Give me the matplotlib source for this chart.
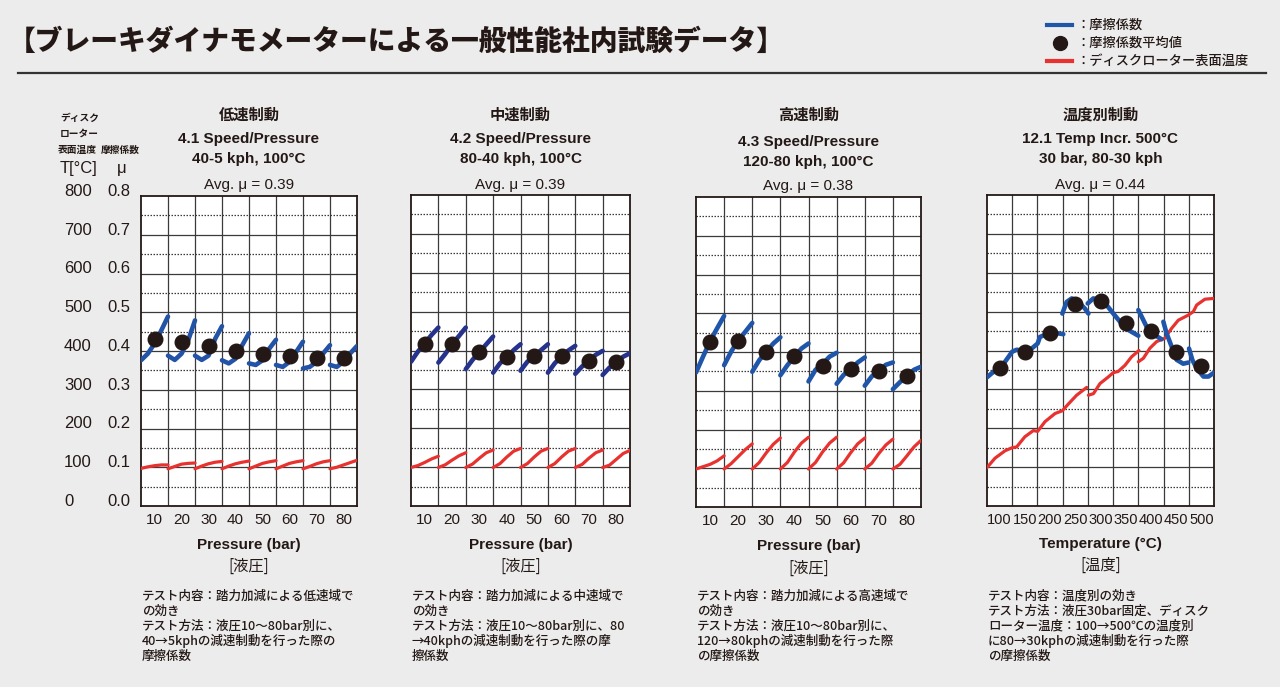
import matplotlib
matplotlib.use("Agg")
import matplotlib.pyplot as plt
from matplotlib.lines import Line2D
from matplotlib.transforms import blended_transform_factory
import numpy as np

W, H = 1280, 687

plt.rcParams["font.family"] = ["Liberation Sans", "Noto Sans CJK JP", "DejaVu Sans"]

BG = "#ececec"
INK = "#231815"
RED = "#e8322f"
JP = ["Noto Sans CJK JP", "DejaVu Sans"]

# --- data -------------------------------------------------------------
pressures = [10, 20, 30, 40, 50, 60, 70, 80]

# friction coefficient, 5 samples across each pressure step
low_mu = [[0.376, 0.393, 0.419, 0.453, 0.489],
          [0.388, 0.377, 0.393, 0.428, 0.479],
          [0.388, 0.377, 0.388, 0.432, 0.464],
          [0.376, 0.368, 0.380, 0.415, 0.446],
          [0.368, 0.364, 0.376, 0.406, 0.429],
          [0.364, 0.359, 0.372, 0.398, 0.424],
          [0.355, 0.359, 0.372, 0.394, 0.415],
          [0.364, 0.359, 0.372, 0.394, 0.413]]
low_avg = [0.430, 0.423, 0.412, 0.400, 0.391, 0.386, 0.383, 0.383]
low_temp = [[97, 101, 104, 106, 106],
            [96, 102, 108, 110, 111],
            [96, 103, 109, 113, 115],
            [96, 103, 109, 113, 116],
            [96, 103, 110, 114, 117],
            [96, 103, 110, 114, 117],
            [96, 102, 109, 114, 117],
            [96, 100, 106, 112, 118]]

mid_mu = [[0.371, 0.397, 0.418, 0.440, 0.459],
          [0.369, 0.391, 0.417, 0.437, 0.459],
          [0.352, 0.376, 0.396, 0.416, 0.436],
          [0.343, 0.367, 0.383, 0.401, 0.416],
          [0.348, 0.371, 0.386, 0.401, 0.416],
          [0.343, 0.367, 0.385, 0.400, 0.412],
          [0.340, 0.359, 0.374, 0.389, 0.399],
          [0.337, 0.356, 0.370, 0.384, 0.393]]
mid_avg = [0.418, 0.417, 0.396, 0.383, 0.386, 0.385, 0.374, 0.370]
mid_temp = [[99, 104, 112, 121, 128],
            [99, 106, 118, 129, 137],
            [99, 108, 123, 137, 144],
            [99, 109, 126, 141, 148],
            [99, 109, 126, 141, 148],
            [99, 109, 126, 141, 148],
            [99, 107, 123, 137, 144],
            [99, 105, 120, 135, 143]]

high_mu = [[0.347, 0.388, 0.428, 0.461, 0.493],
           [0.366, 0.401, 0.430, 0.452, 0.475],
           [0.349, 0.379, 0.401, 0.422, 0.438],
           [0.340, 0.366, 0.388, 0.409, 0.422],
           [0.324, 0.354, 0.369, 0.388, 0.398],
           [0.318, 0.341, 0.356, 0.373, 0.386],
           [0.313, 0.337, 0.352, 0.367, 0.373],
           [0.304, 0.322, 0.339, 0.354, 0.362]]
high_avg = [0.427, 0.428, 0.401, 0.389, 0.365, 0.355, 0.350, 0.338]
high_temp = [[98, 104, 110, 119, 132],
             [98, 112, 130, 148, 163],
             [98, 115, 140, 162, 178],
             [98, 115, 142, 165, 180],
             [98, 115, 142, 165, 180],
             [98, 114, 140, 163, 178],
             [98, 113, 138, 160, 175],
             [98, 110, 132, 155, 172]]

# temperature sweep panel
temps = [100, 150, 200, 250, 300, 350, 400, 450, 500]
temp_avg = [0.354, 0.396, 0.444, 0.519, 0.527, 0.472, 0.451, 0.395, 0.361]
temp_mu_x = [[75, 84, 97.5, 110.7, 125, 134, 149, 163.5, 175.4, 180, 190, 203, 216.4, 226.3],
             [224.3, 233, 243, 256, 269, 276],
             [274.6, 285.8, 299, 312, 325.4, 338.7, 355, 375],
             [375, 381.6, 391.5, 404.7, 421],
             [424.6, 431, 441, 451, 464, 474],
             [475.5, 482, 490.7, 504, 514, 525]]
temp_mu_y = [[0.331, 0.341, 0.354, 0.371, 0.397, 0.402, 0.398, 0.405, 0.418, 0.435, 0.440, 0.449, 0.444, 0.442],
             [0.495, 0.525, 0.534, 0.525, 0.508, 0.495],
             [0.521, 0.534, 0.530, 0.517, 0.495, 0.474, 0.453, 0.438],
             [0.504, 0.487, 0.461, 0.442, 0.429],
             [0.474, 0.444, 0.410, 0.376, 0.366, 0.369],
             [0.405, 0.376, 0.354, 0.333, 0.333, 0.343]]
temp_T_x = [[75, 90.9, 110.7, 125, 133.8, 150, 166.8, 175.4, 190, 210, 224.3, 236, 252.7, 272.6],
            [276, 286, 299, 315.5, 325.4, 335, 348.6, 361.8, 376.3],
            [375, 385, 398, 411.3, 427, 441, 454.3, 474, 484, 490.7, 507, 525]]
temp_T_y = [[99, 123, 142, 150, 152, 178, 194, 192, 217, 238, 245, 262, 285, 305],
            [285, 289, 315, 332, 343, 346, 362, 384, 400],
            [371, 380, 406, 423, 431, 457, 478, 491, 500, 517, 532, 534]]

T_labels = [0, 100, 200, 300, 400, 500, 600, 700, 800]
mu_labels = [0.0, 0.1, 0.2, 0.3, 0.4, 0.5, 0.6, 0.7, 0.8]


def fx(x):
    return x / W


def fy(y):
    return 1 - y / H


def ftext(x, y, s, **kw):
    kw.setdefault("color", INK)
    kw.setdefault("va", "center")
    return fig.text(fx(x), fy(y), s, **kw)


fig = plt.figure(figsize=(W / 100, H / 100), dpi=100, facecolor=BG)

# header
ftext(8, 42, "【ブレーキダイナモメーターによる一般性能社内試験データ】",
      fontsize=20, fontweight="heavy", family=JP)
fig.add_artist(Line2D([fx(18), fx(1266)], [fy(73), fy(73)], color="#333333",
                      lw=1.6, transform=fig.transFigure))

# legend
fig.add_artist(Line2D([fx(1047), fx(1072)], [fy(25), fy(25)], color="#1f56a9",
                      lw=3, transform=fig.transFigure))
fig.add_artist(Line2D([fx(1060)], [fy(43)], marker="o", ms=10, color=INK,
                      transform=fig.transFigure))
fig.add_artist(Line2D([fx(1047), fx(1072)], [fy(61), fy(61)], color=RED,
                      lw=3, transform=fig.transFigure))
ftext(1076, 25, "：摩擦係数", fontsize=9.5, family=JP, fontweight="medium")
ftext(1076, 43, "：摩擦係数平均値", fontsize=9.5, family=JP, fontweight="medium")
ftext(1076, 61, "：ディスクローター表面温度", fontsize=9.5, family=JP, fontweight="medium")

panels = [
    dict(box=(141, 196, 357, 506), title=["低速制動", "4.1 Speed/Pressure", "40-5 kph, 100°C"],
         ty=[115, 139, 159, 185], avg="Avg. μ = 0.39", mu=low_mu, avgv=low_avg, temp=low_temp,
         color="#2353a6", xl="Pressure (bar)", xj="[液圧]", xly=[545, 566],
         notes=["テスト内容：踏力加減による低速域で", "の効き", "テスト方法：液圧10～80bar別に、",
                "40→5kphの減速制動を行った際の", "摩擦係数"]),
    dict(box=(411, 195, 630, 506), title=["中速制動", "4.2 Speed/Pressure", "80-40 kph, 100°C"],
         ty=[115, 139, 159, 185], avg="Avg. μ = 0.39", mu=mid_mu, avgv=mid_avg, temp=mid_temp,
         color="#26338c", xl="Pressure (bar)", xj="[液圧]", xly=[545, 566],
         notes=["テスト内容：踏力加減による中速域で", "の効き", "テスト方法：液圧10～80bar別に、80",
                "→40kphの減速制動を行った際の摩", "擦係数"]),
    dict(box=(696, 197, 921, 507), title=["高速制動", "4.3 Speed/Pressure", "120-80 kph, 100°C"],
         ty=[115, 142, 162, 186], avg="Avg. μ = 0.38", mu=high_mu, avgv=high_avg, temp=high_temp,
         color="#1f56a9", xl="Pressure (bar)", xj="[液圧]", xly=[546, 568],
         notes=["テスト内容：踏力加減による高速域で", "の効き", "テスト方法：液圧10～80bar別に、",
                "120→80kphの減速制動を行った際", "の摩擦係数"]),
    dict(box=(987, 195, 1214, 506), title=["温度別制動", "12.1 Temp Incr. 500°C", "30 bar, 80-30 kph"],
         ty=[115, 139, 159, 185], avg="Avg. μ = 0.44", mu=None, avgv=temp_avg, temp=None,
         color="#1f56a9", xl="Temperature (°C)", xj="[温度]", xly=[544, 565],
         notes=["テスト内容：温度別の効き", "テスト方法：液圧30bar固定、ディスク",
                "ローター温度：100→500℃の温度別", "に80→30kphの減速制動を行った際",
                "の摩擦係数"]),
]

axes = []
for p in panels:
    x0, y0, x1, y1 = p["box"]
    ax = fig.add_axes([fx(x0), fy(y1), (x1 - x0) / W, (y1 - y0) / H])
    ax.set_facecolor("white")
    ax.set_ylim(0, 0.8)
    ax.set_yticks(np.arange(0.1, 0.8, 0.1))
    ax.set_yticks(np.arange(0.05, 0.8, 0.1), minor=True)
    ax.yaxis.grid(True, which="major", color="#3a3a3a", lw=0.9, ls="-")
    ax.yaxis.grid(True, which="minor", color="#3a3a3a", lw=0.9, ls=(0, (1.2, 1.2)))
    ax.set_yticklabels([])
    if p["mu"] is not None:
        ax.set_xlim(5, 85)
        ax.set_xticks(pressures)
        ax.set_xticks(np.arange(15, 80, 10), minor=True)
        for i, pr in enumerate(pressures):
            xs = np.linspace(pr - 5, pr + 5, len(p["mu"][i]))
            ax.plot(xs, np.array(p["temp"][i]) / 1000, color=RED, lw=2.3,
                    solid_capstyle="round", zorder=3)
            ax.plot(xs, p["mu"][i], color=p["color"], lw=3.3,
                    solid_capstyle="round", zorder=4)
        ax.plot(pressures, p["avgv"], "o", color=INK, ms=10.5, zorder=5)
        ax.tick_params(axis="x", labelsize=11)
    else:
        ax.set_xlim(75, 525)
        ax.set_xticks(temps)
        ax.set_xticks(np.arange(125, 500, 50), minor=True)
        for xs, ts in zip(temp_T_x, temp_T_y):
            ax.plot(xs, np.array(ts) / 1000, color=RED, lw=2.3,
                    solid_capstyle="round", zorder=3)
        for xs, ms in zip(temp_mu_x, temp_mu_y):
            ax.plot(xs, ms, color=p["color"], lw=3.3, solid_capstyle="round", zorder=4)
        ax.plot(temps, p["avgv"], "o", color=INK, ms=10.5, zorder=5)
        ax.tick_params(axis="x", labelsize=10.5)
    ax.xaxis.grid(True, which="minor", color="#3a3a3a", lw=0.9)
    ax.tick_params(which="both", length=0)
    ax.tick_params(axis="x", pad=5, labelcolor=INK)
    for s in ax.spines.values():
        s.set_color(INK)
        s.set_linewidth(1.3)
    ax.set_axisbelow(True)
    axes.append(ax)

    cx = (x0 + x1) / 2
    ftext(cx, p["ty"][0], p["title"][0], fontsize=11, fontweight="bold", ha="center", family=JP)
    ftext(cx, p["ty"][1], p["title"][1], fontsize=11, fontweight="bold", ha="center")
    ftext(cx, p["ty"][2], p["title"][2], fontsize=11, fontweight="bold", ha="center")
    ftext(cx, p["ty"][3], p["avg"], fontsize=11, ha="center")
    ftext(cx, p["xly"][0], p["xl"], fontsize=11, fontweight="bold", ha="center")
    ftext(cx, p["xly"][1], p["xj"], fontsize=11, ha="center", family=JP)
    for i, line in enumerate(p["notes"]):
        ftext(x0 + 1, 596 + 15 * i, line, fontsize=9, family=JP, fontweight="medium")

# shared left scale
tr = blended_transform_factory(fig.transFigure, axes[0].transData)
for t, m in zip(T_labels, mu_labels):
    fig.text(fx(64), m + 0.012, f"{t}", transform=tr, fontsize=12, va="center",
             color=INK)
    fig.text(fx(107), m + 0.012, f"{m:.1f}", transform=tr, fontsize=12,
             va="center", color=INK)

ftext(60, 118, "ディスク", fontsize=7, fontweight="bold", family=JP)
ftext(60, 134, "ローター", fontsize=7, fontweight="bold", family=JP)
ftext(58, 150, "表面温度", fontsize=7, fontweight="bold", family=JP)
ftext(101, 150, "摩擦係数", fontsize=7, fontweight="bold", family=JP)
ftext(79, 168, "T[°C]", fontsize=12, ha="center")
ftext(122, 168, "μ", fontsize=12, ha="center")

fig.savefig("out.png", dpi=100, facecolor=BG)
